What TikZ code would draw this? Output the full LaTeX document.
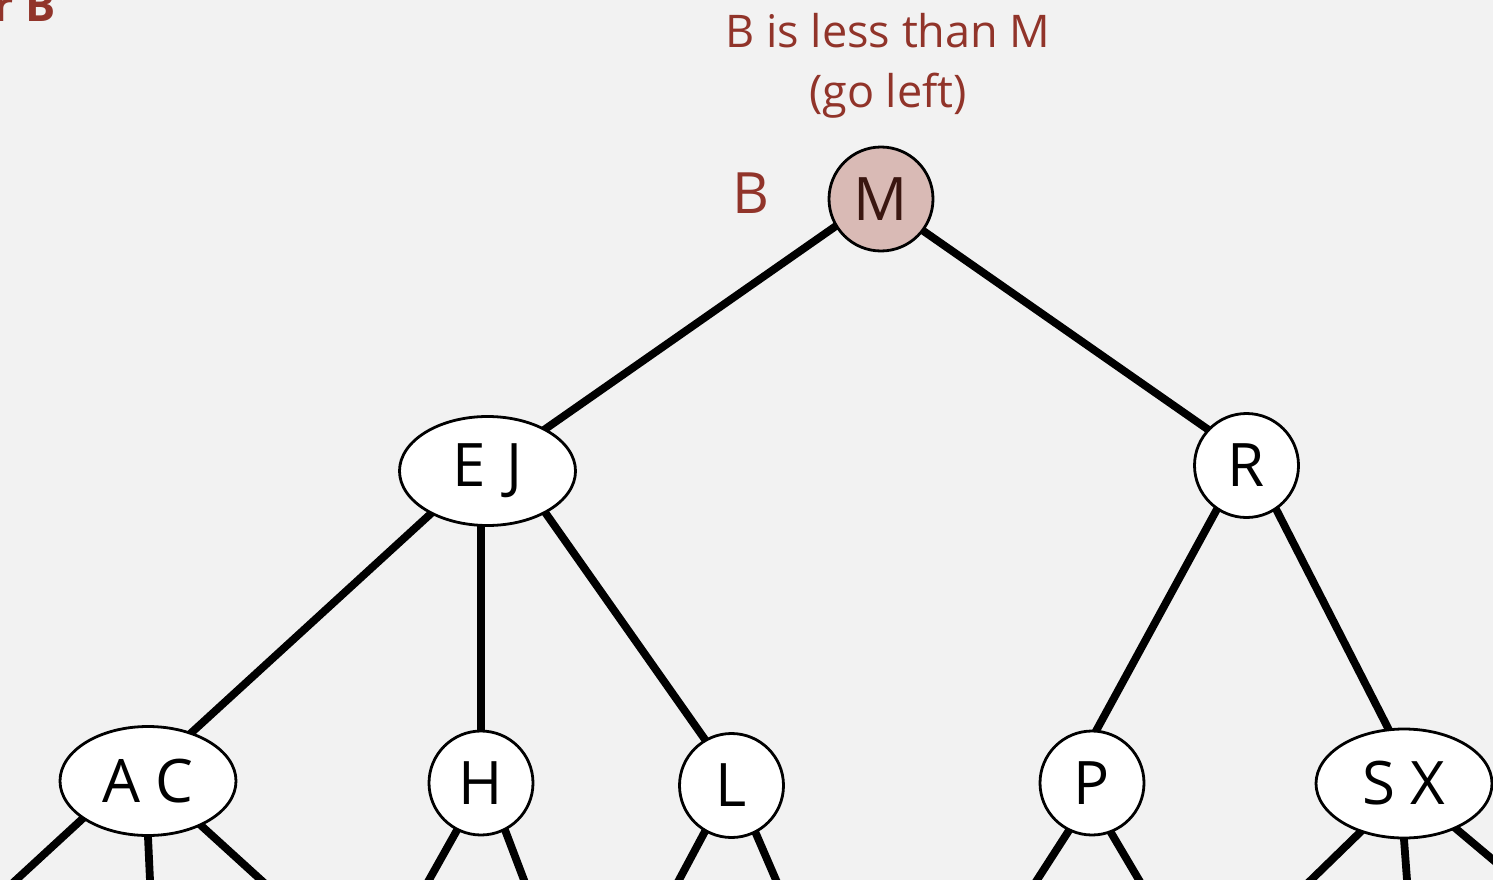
\documentclass[tikz,border=0pt]{standalone}
\usepackage{fontspec}
\setmainfont{Open Sans}
\usetikzlibrary{shapes.geometric,backgrounds}
\definecolor{bgc}{HTML}{F2F2F2}
\definecolor{notered}{HTML}{91342A}
\definecolor{mfill}{HTML}{D9BAB5}
\definecolor{mtext}{HTML}{3A1610}
\newcommand\keyfont{\fontsize{60}{62}\selectfont}
\newcommand\notefont{\fontsize{45}{50}\selectfont}
\begin{document}
\begin{tikzpicture}[x=1pt,y=-1pt,
  keynode/.style={circle,draw=black,line width=2.8pt,fill=white,minimum size=104pt,inner sep=0pt,font=\keyfont},
  pairnode/.style={ellipse,draw=black,line width=2.8pt,fill=white,minimum width=176pt,minimum height=109pt,inner sep=0pt,font=\keyfont},
  link/.style={line width=7.8pt,shorten <=-8pt,shorten >=-8pt},
  stub/.style={line width=7.8pt,shorten <=-8pt,shorten >=-14pt},
  note/.style={text=notered,font=\notefont,inner sep=0pt}]
\useasboundingbox (0,0) rectangle (1493,880);
% nodes
\node[keynode,fill=mfill,text=mtext] (M) at (881,199) {M};
\node[pairnode] (EJ) at (487.5,471) {E\,\,J};
\node[keynode] (R) at (1246.5,465.5) {R};
\node[pairnode] (AC) at (148,781) {A C};
\node[keynode] (H) at (481,783) {H};
\node[keynode] (L) at (731.5,785.5) {L};
\node[keynode] (P) at (1092,783) {P};
\node[pairnode] (SX) at (1404,783.5) {S X};
% labels
\node[note,anchor=base] (t1) at (888,48) {B is less than M};
\node[note,anchor=base] (t2) at (888,108) {(go left)};
\node[note,font=\fontsize{57}{60}\selectfont,anchor=base] (key) at (751,213) {B};
\node[note,font=\notefont\bfseries,anchor=base east] (search) at (56,22) {search for B};
% free ends of the links to the next level
\coordinate (acl) at (16,880);
\coordinate (acm) at (150,880);
\coordinate (acr) at (261,880);
\coordinate (hl) at (429,880);
\coordinate (hr) at (524,880);
\coordinate (ll) at (679,880);
\coordinate (lr) at (776,880);
\coordinate (pl) at (1037,880);
\coordinate (pr) at (1139,880);
\coordinate (sxl) at (1311,880);
\coordinate (sxm) at (1407,880);
\coordinate (sxr) at (1517,880);
\begin{scope}[on background layer]
\fill[bgc] (0,0) rectangle (1493,880);
\draw[link] (M.211) -- (EJ.36);
\draw[link] (M.323) -- (R.137);
\draw[link] (EJ.217) -- (AC.48);
\draw[link] (H.north) -- (H |- EJ.center);
\draw[link] (EJ.324) -- (L.120);
\draw[link] (R.236) -- (P.85);
\draw[link] (R.304) -- (SX.106);
\draw[stub] (AC.210) -- (acl);
\draw[stub] (AC.270) -- (acm);
\draw[stub] (AC.320) -- (acr);
\draw[stub] (H.243) -- (hl);
\draw[stub] (H.297) -- (hr);
\draw[stub] (L.240) -- (ll);
\draw[stub] (L.297) -- (lr);
\draw[stub] (P.244) -- (pl);
\draw[stub] (P.291) -- (pr);
\draw[stub] (SX.228) -- (sxl);
\draw[stub] (SX.270) -- (sxm);
\draw[stub] (SX.319) -- (sxr);
\end{scope}
\end{tikzpicture}
\end{document}
